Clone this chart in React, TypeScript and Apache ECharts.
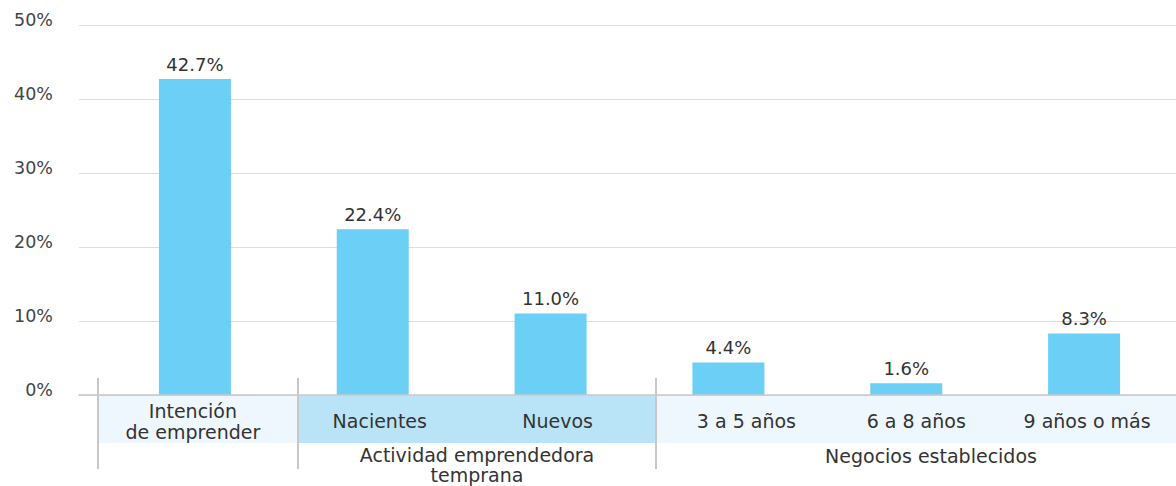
import React, { useEffect, useRef } from "react";
import * as echarts from "echarts";

const categories = [
  "Intención\nde emprender",
  "Nacientes",
  "Nuevos",
  "3 a 5 años",
  "6 a 8 años",
  "9 años o más",
];
const values = [42.7, 22.4, 11.0, 4.4, 1.6, 8.3];
const groupLabels = ["Actividad emprendedora\ntemprana", "Negocios establecidos"];
const yMin = 0;
const yMax = 50;
const yStep = 10;

// layout only
const labelShift = [-2, 7, 7, 18, 10, 3];
const FONT = "DejaVu Sans";

export default function App() {
  const ref = useRef<HTMLDivElement>(null);
  useEffect(() => {
    const chart = echarts.init(ref.current!, null, { renderer: "svg" });
    const rich: any = {};
    labelShift.forEach((s, i) => {
      rich["c" + i] = {
        fontFamily: FONT,
        fontSize: 19,
        color: "#333",
        lineHeight: 21,
        padding: s >= 0 ? [0, 0, 0, 2 * s] : [0, -2 * s, 0, 0],
      };
    });
    const bandY = 396;
    const bandH = 47;
    chart.setOption({
      animation: false,
      grid: [
        { left: 79, right: 0, top: 25, bottom: 91 },
        { left: 106, right: 3, top: 25, bottom: 91 },
      ],
      xAxis: [
        {
          gridIndex: 0,
          type: "category",
          data: [""],
          z: 10,
          axisLine: { show: true, lineStyle: { color: "#c8c8c8", width: 1.5 } },
          axisTick: { show: false },
          axisLabel: { show: false },
        },
        {
          gridIndex: 1,
          type: "category",
          data: categories,
          z: 10,
          axisLine: { show: false },
          axisTick: { show: false },
          axisLabel: {
            interval: 0,
            margin: 26,
            verticalAlign: "middle",
            formatter: (v: string, i: number) =>
              v
                .split("\n")
                .map((l) => `{c${i}|${l}}`)
                .join("\n"),
            rich,
          },
        },
      ],
      yAxis: [
        {
          gridIndex: 0,
          type: "value",
          min: yMin,
          max: yMax,
          interval: yStep,
          axisLine: { show: false },
          axisTick: { show: false },
          splitLine: { lineStyle: { color: "#dddddd", width: 1 } },
          axisLabel: {
            formatter: "{value}%",
            margin: 26,
            fontFamily: FONT,
            fontSize: 17.5,
            color: "#444",
            verticalAlign: "bottom",
            lineHeight: 10,
          },
        },
        { gridIndex: 1, type: "value", min: yMin, max: yMax, show: false },
      ],
      series: [
        {
          type: "bar",
          xAxisIndex: 1,
          yAxisIndex: 1,
          data: values,
          barWidth: 72,
          itemStyle: { color: "#6CCFF6" },
          z: 5,
          label: {
            show: true,
            position: "top",
            distance: 6,
            formatter: (p: any) => p.value.toFixed(1) + "%",
            fontFamily: FONT,
            fontSize: 18,
            color: "#333",
          },
        },
      ],
      graphic: [
        { type: "rect", z: -10, shape: { x: 98, y: bandY, width: 200, height: bandH }, style: { fill: "#eef7fd" } },
        { type: "rect", z: -10, shape: { x: 298, y: bandY, width: 358, height: bandH }, style: { fill: "#b9e4f8" } },
        { type: "rect", z: -10, shape: { x: 656, y: bandY, width: 520, height: bandH }, style: { fill: "#eef7fd" } },
        { type: "line", z: -5, shape: { x1: 98, y1: 378, x2: 98, y2: 469 }, style: { stroke: "#c8c8c8", lineWidth: 2 } },
        { type: "line", z: -5, shape: { x1: 298, y1: 378, x2: 298, y2: 469 }, style: { stroke: "#c8c8c8", lineWidth: 2 } },
        { type: "line", z: -5, shape: { x1: 656, y1: 378, x2: 656, y2: 469 }, style: { stroke: "#c8c8c8", lineWidth: 2 } },
        {
          type: "text",
          x: 477,
          y: 445,
          style: {
            text: groupLabels[0],
            align: "center",
            verticalAlign: "top",
            fontFamily: FONT,
            fontSize: 19,
            lineHeight: 20,
            fill: "#333",
          },
        },
        {
          type: "text",
          x: 931,
          y: 446,
          style: {
            text: groupLabels[1],
            align: "center",
            verticalAlign: "top",
            fontFamily: FONT,
            fontSize: 19,
            lineHeight: 20,
            fill: "#333",
          },
        },
      ],
    });
    return () => chart.dispose();
  }, []);
  return (
    <div
      ref={ref}
      style={{ position: "absolute", left: 0, top: 0, width: 1176, height: 486 }}
    />
  );
}
